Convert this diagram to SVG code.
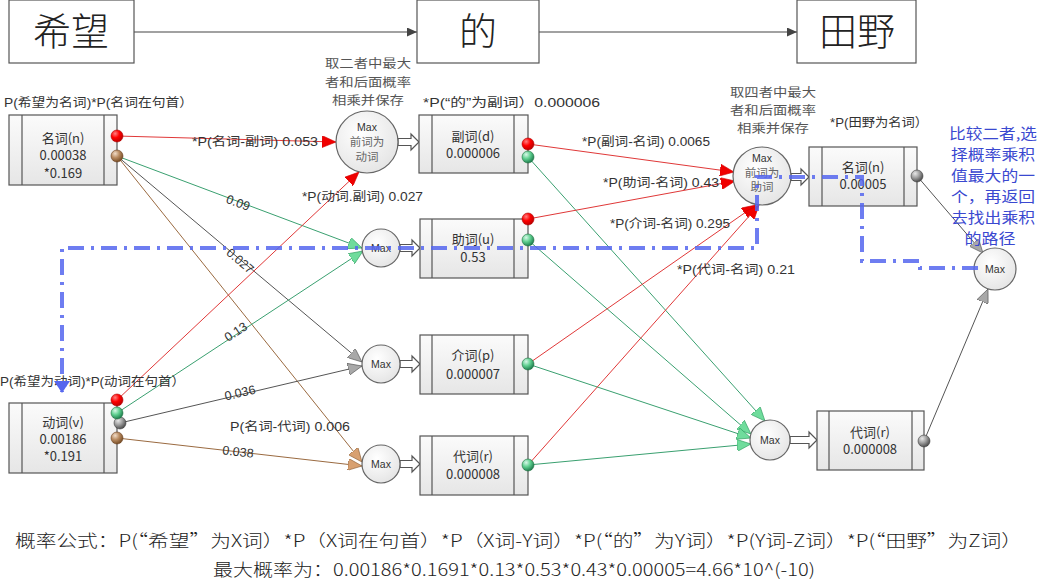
<svg xmlns="http://www.w3.org/2000/svg" width="1040" height="583" viewBox="0 0 1040 583">
<defs>
<linearGradient id="boxg" x1="0" y1="0" x2="0" y2="1"><stop offset="0" stop-color="#fbfbfb"/><stop offset="1" stop-color="#e6e6e6"/></linearGradient>
<radialGradient id="cg" cx="0.4" cy="0.35" r="0.75"><stop offset="0" stop-color="#ffffff"/><stop offset="1" stop-color="#e2e2e2"/></radialGradient>
<radialGradient id="dRed" cx="0.35" cy="0.3" r="0.7"><stop offset="0" stop-color="#ff8080"/><stop offset="0.5" stop-color="#ff0000"/><stop offset="1" stop-color="#c00000"/></radialGradient>
<radialGradient id="dGreen" cx="0.35" cy="0.3" r="0.7"><stop offset="0" stop-color="#d8f8e8"/><stop offset="0.5" stop-color="#60d090"/><stop offset="1" stop-color="#208050"/></radialGradient>
<radialGradient id="dBrown" cx="0.35" cy="0.3" r="0.7"><stop offset="0" stop-color="#f0dcc8"/><stop offset="0.5" stop-color="#b88a60"/><stop offset="1" stop-color="#7a5028"/></radialGradient>
<radialGradient id="dGray" cx="0.35" cy="0.3" r="0.7"><stop offset="0" stop-color="#e8e8e8"/><stop offset="0.5" stop-color="#a0a0a0"/><stop offset="1" stop-color="#505050"/></radialGradient>
<marker id="aRed" markerUnits="userSpaceOnUse" markerWidth="15" markerHeight="12" refX="14" refY="6" orient="auto"><path d="M0,0 L14,6 L0,12 Z" fill="#f00000" stroke="#d00000" stroke-width="0.6"/></marker>
<marker id="aGreen" markerUnits="userSpaceOnUse" markerWidth="15" markerHeight="12" refX="14" refY="6" orient="auto"><path d="M0,0 L14,6 L0,12 Z" fill="#6fdc9c" stroke="#2a9a5c" stroke-width="0.6"/></marker>
<marker id="aGray" markerUnits="userSpaceOnUse" markerWidth="15" markerHeight="12" refX="14" refY="6" orient="auto"><path d="M0,0 L14,6 L0,12 Z" fill="#a8a8a8" stroke="#505050" stroke-width="0.6"/></marker>
<marker id="aBrown" markerUnits="userSpaceOnUse" markerWidth="15" markerHeight="12" refX="14" refY="6" orient="auto"><path d="M0,0 L14,6 L0,12 Z" fill="#d8a070" stroke="#8a5a30" stroke-width="0.6"/></marker>
<marker id="aDark" markerUnits="userSpaceOnUse" markerWidth="11" markerHeight="9" refX="10" refY="4.5" orient="auto"><path d="M0,0 L10,4.5 L0,9 Z" fill="#444"/></marker>
<marker id="aBlue" markerUnits="userSpaceOnUse" markerWidth="14" markerHeight="16" refX="11" refY="8" orient="auto"><path d="M0,0 L12,8 L0,16 Z" fill="#5566ee"/></marker>
</defs>
<style>
.box{fill:url(#boxg);stroke:#555;stroke-width:1.2}
.in{stroke:#555;stroke-width:1.2}
.tb{fill:#fff;stroke:#555;stroke-width:1.2}
.big{font-family:"Noto Sans CJK SC",sans-serif;font-size:38px;fill:#222;text-anchor:middle;font-weight:300}
.nt{font-family:"Noto Sans CJK SC",sans-serif;font-size:13px;fill:#333;text-anchor:middle}
.lb{font-family:"Liberation Sans","Noto Sans CJK SC",sans-serif;font-size:12.5px;fill:#333}
.nl{font-family:"Liberation Sans","Noto Sans CJK SC",sans-serif;font-size:12.5px;fill:#333;text-anchor:middle}
.mx{fill:url(#cg);stroke:#666;stroke-width:1.2}
.mt{font-family:"Liberation Sans",sans-serif;font-size:10.5px;fill:#333;text-anchor:middle}
.mc{font-family:"Noto Sans CJK SC",sans-serif;font-size:11.5px;fill:#666;text-anchor:middle}
.note{font-family:"Noto Sans CJK SC",sans-serif;font-size:12px;fill:#555;text-anchor:middle}
.blue{font-family:"Noto Sans CJK SC",sans-serif;font-size:14.5px;fill:#3a48d0;text-anchor:middle}
.hollow{fill:#fff;stroke:#555;stroke-width:1.2}
.ln{fill:none;stroke-width:1}
.red{stroke:#e03838}
.green{stroke:#3aa070}
.gray{stroke:#555}
.brown{stroke:#9a6a40}
.foot{font-family:"Noto Sans CJK SC",sans-serif;font-size:17px;fill:#222;font-weight:300}
</style>
<rect width="1040" height="583" fill="#fff"/>

<g id="connectors">
<line x1="134" y1="32" x2="417" y2="32" stroke="#444" stroke-width="1.2" marker-end="url(#aDark)"/>
<line x1="539" y1="32" x2="797" y2="32" stroke="#444" stroke-width="1.2" marker-end="url(#aDark)"/>
<path class="ln red" d="M117,136 L336,142" marker-end="url(#aRed)"/>
<path class="ln green" d="M117,156 L362,248" marker-end="url(#aGreen)"/>
<path class="ln gray" d="M117,156 L362,362" marker-end="url(#aGray)"/>
<path class="ln brown" d="M117,156 L362,462" marker-end="url(#aBrown)"/>
<path class="ln red" d="M117,400 L359,172" marker-end="url(#aRed)"/>
<path class="ln green" d="M117,413 L363,251" marker-end="url(#aGreen)"/>
<path class="ln gray" d="M120,423 L362,366" marker-end="url(#aGray)"/>
<path class="ln brown" d="M117,438 L362,466" marker-end="url(#aBrown)"/>
<path class="ln red" d="M528,144 L734,172" marker-end="url(#aRed)"/>
<path class="ln green" d="M528,157 L765,421" marker-end="url(#aGreen)"/>
<path class="ln red" d="M528,219 L735,181" marker-end="url(#aRed)"/>
<path class="ln green" d="M528,240 L751,434" marker-end="url(#aGreen)"/>
<path class="ln red" d="M528,364 L756,205" marker-end="url(#aRed)"/>
<path class="ln green" d="M528,364 L751,438" marker-end="url(#aGreen)"/>
<path class="ln red" d="M528,465 L759,205" marker-end="url(#aRed)"/>
<path class="ln green" d="M528,465 L751,444" marker-end="url(#aGreen)"/>
<path class="ln gray" d="M917,176 L983,253" marker-end="url(#aGray)"/>
<path class="ln gray" d="M924,441 L988,289" marker-end="url(#aGray)"/>
<path class="hollow" d="M398,138.5 H411 V134 L419,142 L411,150 V145.5 H398 Z"/>
<path class="hollow" d="M400,244.5 H412 V240 L420,248 L412,256 V251.5 H400 Z"/>
<path class="hollow" d="M400,360.5 H412 V356 L420,364 L412,372 V367.5 H400 Z"/>
<path class="hollow" d="M400,460.5 H412 V456 L420,464 L412,472 V467.5 H400 Z"/>
<path class="hollow" d="M791,173.5 H801 V169 L809,177 L801,185 V180.5 H791 Z"/>
<path class="hollow" d="M790,436.5 H809 V432 L817,440 L809,448 V443.5 H790 Z"/>
<text class="lb" x="192" y="146" textLength="126" lengthAdjust="spacingAndGlyphs">*P(名词-副词) 0.053</text>
<text class="lb" x="302" y="201" textLength="121" lengthAdjust="spacingAndGlyphs">*P(动词.副词) 0.027</text>
<text class="lb" x="230" y="431" textLength="120" lengthAdjust="spacingAndGlyphs">P(名词-代词)  0.006</text>
<text class="lb" x="582" y="146" textLength="128" lengthAdjust="spacingAndGlyphs">*P(副词-名词) 0.0065</text>
<text class="lb" x="603" y="187" textLength="116" lengthAdjust="spacingAndGlyphs">*P(助词-名词) 0.43</text>
<text class="lb" x="610" y="228" textLength="120" lengthAdjust="spacingAndGlyphs">*P(介词-名词) 0.295</text>
<text class="lb" x="677" y="274" textLength="118" lengthAdjust="spacingAndGlyphs">*P(代词-名词)  0.21</text>
<text class="nl" transform="translate(238,203) rotate(20.6)" y="4">0.09</text>
<text class="nl" transform="translate(240,261) rotate(40)" y="4">0.027</text>
<text class="nl" transform="translate(236,332) rotate(-33.4)" y="4">0.13</text>
<text class="nl" transform="translate(240,393) rotate(-13.3)" y="4">0.036</text>
<text class="nl" transform="translate(238,452) rotate(6.5)" y="4">0.038</text>
</g>

<g id="word-xiwang"><rect class="tb" x="9" y="0" width="125" height="63"/><text class="big" x="71" y="45">希望</text></g>
<g id="word-de"><rect class="tb" x="417" y="0" width="122" height="63"/><text class="big" x="478" y="45">的</text></g>
<g id="word-tianye"><rect class="tb" x="797" y="0" width="119" height="63"/><text class="big" x="857" y="45">田野</text></g>

<g id="node-noun1">
<text class="lb" x="4" y="107" textLength="189" lengthAdjust="spacingAndGlyphs">P(希望为名词)*P(名词在句首）</text>
<rect class="box" x="9" y="115" width="108" height="70"/>
<line class="in" x1="22" y1="115" x2="22" y2="185"/><line class="in" x1="104" y1="115" x2="104" y2="185"/>
<text class="nt" x="63" y="143">名词(n)</text><text class="nt" x="63" y="160">0.00038</text><text class="nt" x="63" y="178">*0.169</text>
<circle cx="117" cy="136" r="6" fill="url(#dRed)" stroke="#b00000" stroke-width="0.6"/>
<circle cx="117" cy="156" r="6" fill="url(#dBrown)" stroke="#6a4020" stroke-width="0.6"/>
</g>
<g id="node-verb1">
<text class="lb" x="0" y="386" textLength="185" lengthAdjust="spacingAndGlyphs">P(希望为动词)*P(动词在句首）</text>
<rect class="box" x="9" y="403" width="108" height="70"/>
<line class="in" x1="22" y1="403" x2="22" y2="473"/><line class="in" x1="104" y1="403" x2="104" y2="473"/>
<text class="nt" x="63" y="427">动词(v)</text><text class="nt" x="63" y="444">0.00186</text><text class="nt" x="63" y="461">*0.191</text>
<circle cx="117" cy="400" r="6" fill="url(#dRed)" stroke="#b00000" stroke-width="0.6"/>
<circle cx="120" cy="423" r="6" fill="url(#dGray)" stroke="#404040" stroke-width="0.6"/>
<circle cx="117" cy="413" r="6" fill="url(#dGreen)" stroke="#207040" stroke-width="0.6"/>
<circle cx="117" cy="438" r="6" fill="url(#dBrown)" stroke="#6a4020" stroke-width="0.6"/>
</g>

<g id="max1">
<text class="note" x="368" y="68" textLength="86" lengthAdjust="spacingAndGlyphs">取二者中最大</text>
<text class="note" x="368" y="86.5" textLength="86" lengthAdjust="spacingAndGlyphs">者和后面概率</text>
<text class="note" x="368" y="105" textLength="72" lengthAdjust="spacingAndGlyphs">相乘并保存</text>
<circle class="mx" cx="367" cy="142" r="31"/>
<text class="mt" x="367" y="131">Max</text><text class="mc" x="367" y="146">前词为</text><text class="mc" x="367" y="161">动词</text>
</g>
<g id="max2"><circle class="mx" cx="381" cy="248" r="19"/><text class="mt" x="381" y="252">Max</text></g>
<g id="max3"><circle class="mx" cx="381" cy="364" r="19"/><text class="mt" x="381" y="368">Max</text></g>
<g id="max4"><circle class="mx" cx="381" cy="464" r="19"/><text class="mt" x="381" y="468">Max</text></g>

<g id="node-adv">
<text class="lb" x="423" y="107" textLength="177" lengthAdjust="spacingAndGlyphs">*P(“的”为副词）0.000006</text>
<rect class="box" x="419" y="115" width="109" height="58"/>
<line class="in" x1="432" y1="115" x2="432" y2="173"/><line class="in" x1="514" y1="115" x2="514" y2="173"/>
<text class="nt" x="473" y="141">副词(d)</text><text class="nt" x="473" y="158">0.000006</text>
<circle cx="528" cy="144" r="6" fill="url(#dRed)" stroke="#b00000" stroke-width="0.6"/>
<circle cx="528" cy="157" r="6" fill="url(#dGreen)" stroke="#207040" stroke-width="0.6"/>
</g>
<g id="node-aux">
<rect class="box" x="420" y="219" width="108" height="59"/>
<line class="in" x1="432" y1="219" x2="432" y2="278"/><line class="in" x1="514" y1="219" x2="514" y2="278"/>
<text class="nt" x="473" y="244">助词(u)</text><text class="nt" x="473" y="262">0.53</text>
<circle cx="528" cy="219" r="6" fill="url(#dRed)" stroke="#b00000" stroke-width="0.6"/>
<circle cx="528" cy="240" r="6" fill="url(#dGreen)" stroke="#207040" stroke-width="0.6"/>
</g>
<g id="node-prep">
<rect class="box" x="420" y="335" width="108" height="59"/>
<line class="in" x1="432" y1="335" x2="432" y2="394"/><line class="in" x1="514" y1="335" x2="514" y2="394"/>
<text class="nt" x="473" y="360">介词(p)</text><text class="nt" x="473" y="379">0.000007</text>
<circle cx="528" cy="364" r="6" fill="url(#dGreen)" stroke="#207040" stroke-width="0.6"/>
</g>
<g id="node-pron1">
<rect class="box" x="420" y="436" width="108" height="59"/>
<line class="in" x1="432" y1="436" x2="432" y2="495"/><line class="in" x1="514" y1="436" x2="514" y2="495"/>
<text class="nt" x="473" y="461">代词(r)</text><text class="nt" x="473" y="479">0.000008</text>
<circle cx="528" cy="465" r="6" fill="url(#dGreen)" stroke="#207040" stroke-width="0.6"/>
</g>

<g id="max5">
<text class="note" x="773" y="97" textLength="86" lengthAdjust="spacingAndGlyphs">取四者中最大</text>
<text class="note" x="773" y="115" textLength="86" lengthAdjust="spacingAndGlyphs">者和后面概率</text>
<text class="note" x="773" y="133" textLength="72" lengthAdjust="spacingAndGlyphs">相乘并保存</text>
<circle class="mx" cx="762" cy="176" r="29"/>
<text class="mt" x="762" y="162">Max</text><text class="mc" x="762" y="177">前词为</text><text class="mc" x="762" y="191">助词</text>
</g>
<g id="max7"><circle class="mx" cx="770" cy="440" r="20"/><text class="mt" x="770" y="444">Max</text></g>

<g id="node-noun3">
<text class="lb" x="830" y="127" textLength="98" lengthAdjust="spacingAndGlyphs">*P(田野为名词）</text>
<rect class="box" x="809" y="147" width="108" height="59"/>
<line class="in" x1="822" y1="147" x2="822" y2="206"/><line class="in" x1="904" y1="147" x2="904" y2="206"/>
<text class="nt" x="863" y="172">名词(n)</text><text class="nt" x="863" y="189">0.00005</text>
<circle cx="917" cy="176" r="6" fill="url(#dGray)" stroke="#404040" stroke-width="0.6"/>
</g>
<g id="node-pron3">
<rect class="box" x="817" y="411" width="107" height="59"/>
<line class="in" x1="829" y1="411" x2="829" y2="470"/><line class="in" x1="912" y1="411" x2="912" y2="470"/>
<text class="nt" x="870" y="437">代词(r)</text><text class="nt" x="870" y="454">0.000008</text>
<circle cx="924" cy="441" r="6" fill="url(#dGray)" stroke="#404040" stroke-width="0.6"/>
</g>
<g id="max6"><circle class="mx" cx="995" cy="269" r="21"/><text class="mt" x="995" y="273">Max</text></g>

<g id="note-blue">
<text class="blue" x="993" y="139" textLength="88" lengthAdjust="spacingAndGlyphs">比较二者,选</text>
<text class="blue" x="993" y="160" textLength="84" lengthAdjust="spacingAndGlyphs">择概率乘积</text>
<text class="blue" x="993" y="181" textLength="84" lengthAdjust="spacingAndGlyphs">值最大的一</text>
<text class="blue" x="993" y="202" textLength="84" lengthAdjust="spacingAndGlyphs">个，再返回</text>
<text class="blue" x="993" y="223" textLength="84" lengthAdjust="spacingAndGlyphs">去找出乘积</text>
<text class="blue" x="990" y="244" textLength="51" lengthAdjust="spacingAndGlyphs">的路径</text>
</g>

<g id="trace-path">
<path d="M978,268 H920 V261 H862 V177 H757 V248 H62 V392" fill="none" stroke="#5566ee" stroke-opacity="0.85" stroke-width="4" stroke-dasharray="16 7 3 7" marker-end="url(#aBlue)"/>
</g>

<g id="formula">
<text class="foot" x="15" y="547" textLength="1007" lengthAdjust="spacingAndGlyphs">概率公式：P(“希望”为X词）*P（X词在句首）*P（X词-Y词）*P(“的”为Y词）*P(Y词-Z词）*P(“田野”为Z词）</text>
<text class="foot" x="213" y="576" textLength="602" lengthAdjust="spacingAndGlyphs">最大概率为：0.00186*0.1691*0.13*0.53*0.43*0.00005=4.66*10^(-10)</text>
</g>
</svg>
